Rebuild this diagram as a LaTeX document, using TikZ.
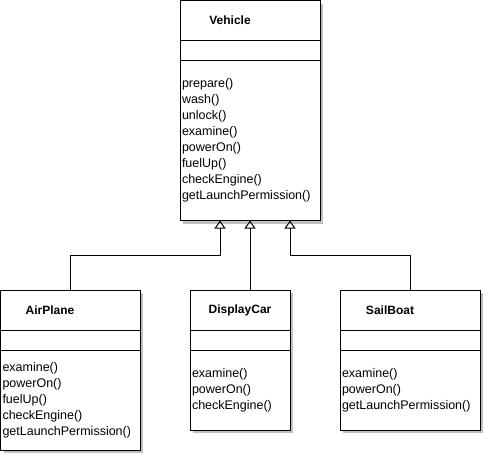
\documentclass[tikz,border=0pt]{standalone}
\usepackage{fontspec}
\setmainfont{Liberation Sans}
\usetikzlibrary{positioning,shadows,arrows.meta}

\begin{document}
\begin{tikzpicture}[x=1pt,y=-1pt,line width=1pt,
  every node/.style={font=\fontsize{12.5}{16}\selectfont},
  box/.style={draw,fill=white,inner sep=0pt,outer sep=0pt,
    drop shadow={shadow xshift=3pt,shadow yshift=-3pt,fill=black!25,opacity=1}},
  head/.style={box,minimum width=#1,minimum height=40pt,anchor=north west},
  attr/.style={box,minimum width=#1,minimum height=20pt},
  ops/.style={box,text width=#1,inner xsep=2pt,align=left},
  classname/.style={font=\fontsize{12}{16}\selectfont\bfseries},
  extends/.style={-{Triangle[open,length=8pt,width=11pt]}}]
\useasboundingbox (0,0) rectangle (485,455);

\node[head=140pt] (vehicle) at (180,0.5) {};
\node[attr=140pt,below=0pt of vehicle] (vehicle-attr) {};
\node[ops=136pt,minimum height=160pt,below=0pt of vehicle-attr] (vehicle-ops)
  {prepare()\\wash()\\unlock()\\examine()\\powerOn()\\fuelUp()\\checkEngine()\\getLaunchPermission()};
\node[classname] (vehicle-name) at ([xshift=50pt]vehicle.west) {Vehicle};

\node[head=139.5pt] (airplane) at (0.5,290) {};
\node[attr=139.5pt,below=0pt of airplane] (airplane-attr) {};
\node[ops=135.5pt,minimum height=100pt,below=0pt of airplane-attr] (airplane-ops)
  {examine()\\powerOn()\\fuelUp()\\checkEngine()\\getLaunchPermission()};
\node[classname] (airplane-name) at ([xshift=49.5pt]airplane.west) {AirPlane};

\node[head=100pt] (displaycar) at (190,290) {};
\node[attr=100pt,below=0pt of displaycar] (displaycar-attr) {};
\node[ops=96pt,minimum height=80pt,below=0pt of displaycar-attr] (displaycar-ops)
  {examine()\\powerOn()\\checkEngine()};
\node[classname] (displaycar-name) at ([xshift=50pt]displaycar.west) {DisplayCar};

\node[head=140pt] (sailboat) at (340,290) {};
\node[attr=140pt,below=0pt of sailboat] (sailboat-attr) {};
\node[ops=136pt,minimum height=80pt,below=0pt of sailboat-attr] (sailboat-ops)
  {examine()\\powerOn()\\getLaunchPermission()};
\node[classname] (sailboat-name) at ([xshift=50pt]sailboat.west) {SailBoat};

\draw[extends] (airplane.north) |- ++(0,-35) -| ([xshift=-30pt]vehicle-ops.south);
\draw[extends] (vehicle-ops.south |- displaycar.north) -- (vehicle-ops.south);
\draw[extends] (sailboat.north) |- ++(0,-35) -| ([xshift=40pt]vehicle-ops.south);

\end{tikzpicture}
\end{document}
